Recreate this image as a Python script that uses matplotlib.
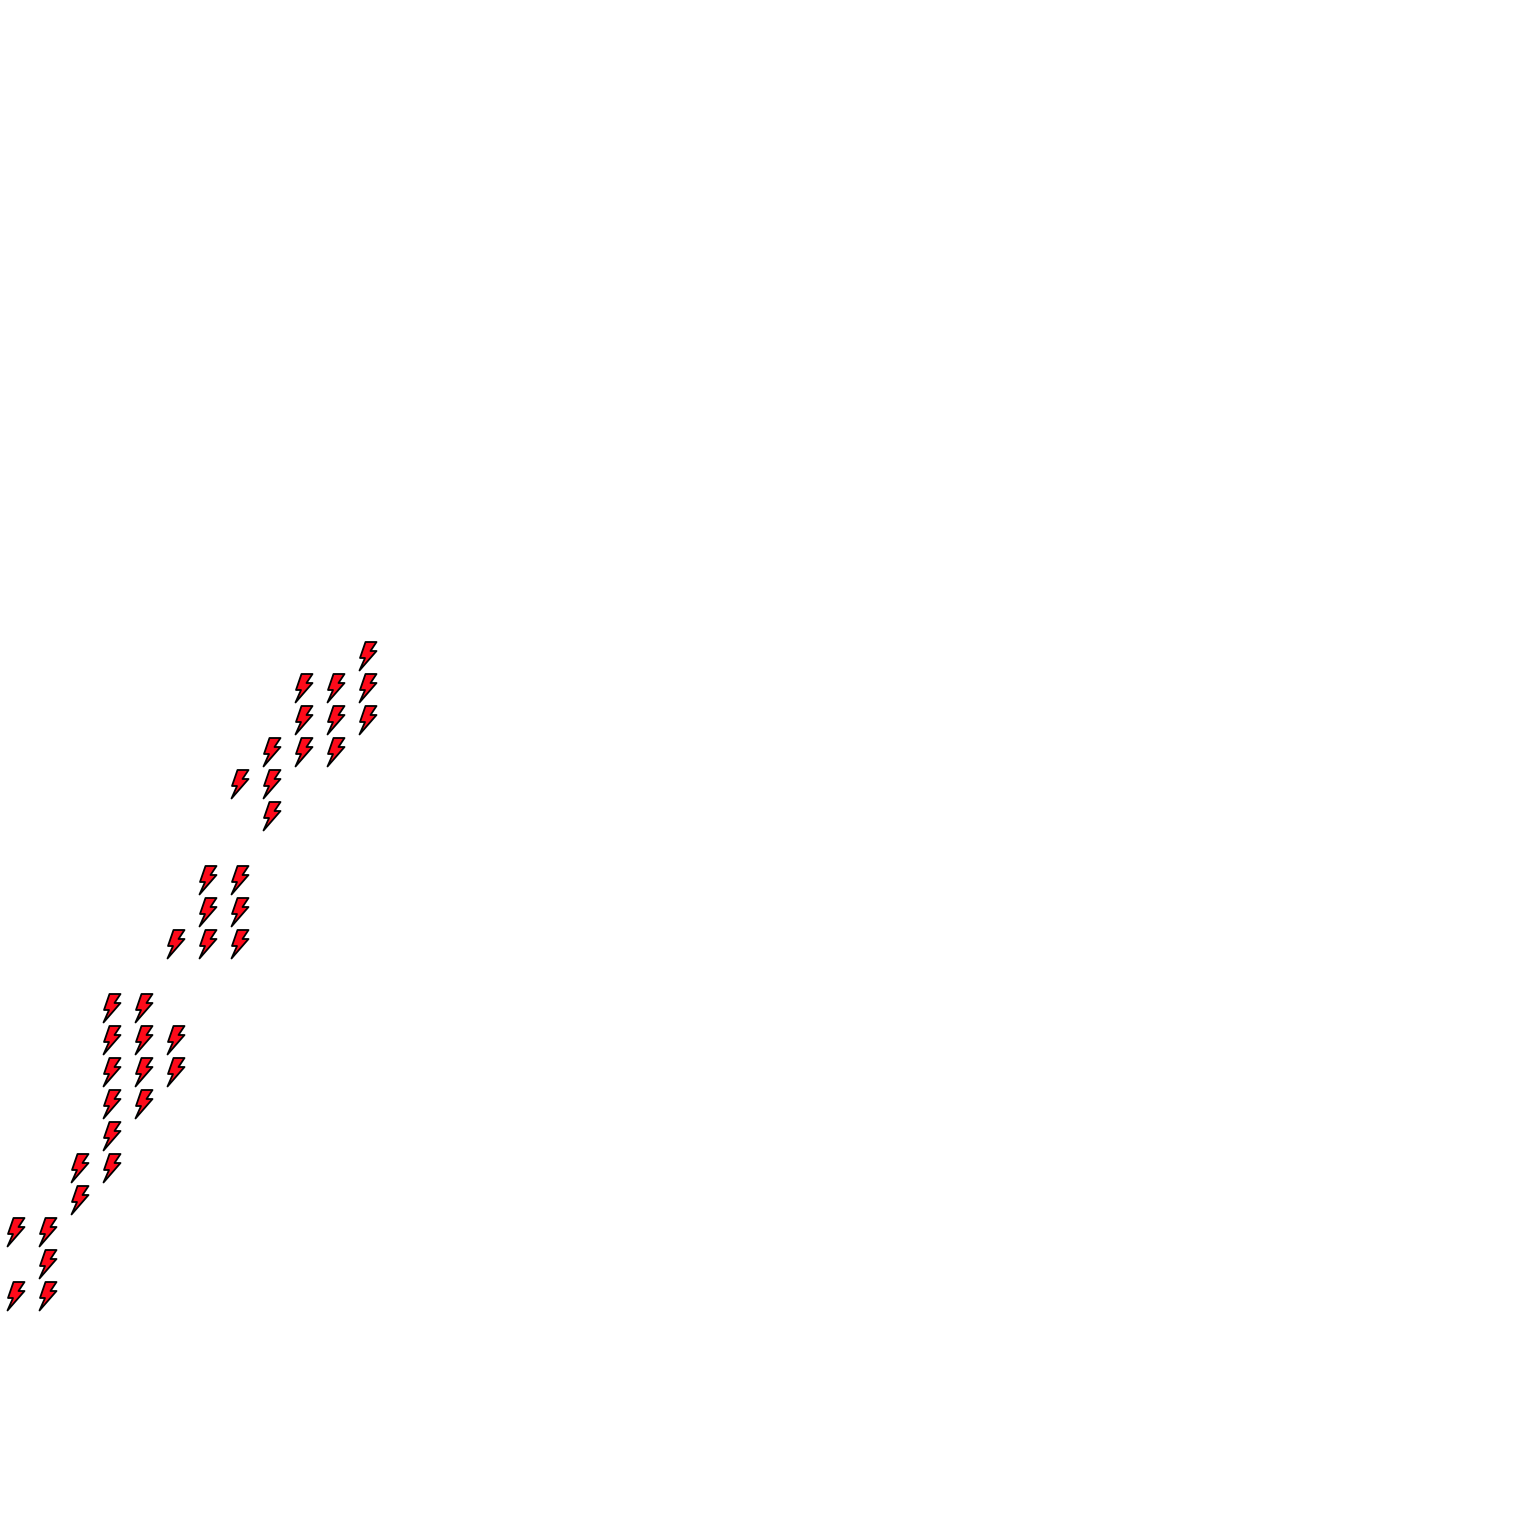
import matplotlib

matplotlib.use("Agg")

import matplotlib.pyplot as plt
from matplotlib.path import Path

# grid column of each group of bolts, rows counted up from the lowest bolt
col_0 = [0, 2]
col_1 = [0, 1, 2]
col_2 = [3, 4]
col_3 = [4, 5, 6, 7, 8, 9]
col_4 = [6, 7, 8, 9]
col_5 = [7, 8, 11]
col_6 = [11, 12, 13]
col_7 = [11, 12, 13, 16]
col_8 = [15, 16, 17]
col_9 = [17, 18, 19]
col_10 = [17, 18, 19]
col_11 = [18, 19, 20]
columns = [col_0, col_1, col_2, col_3, col_4, col_5, col_6, col_7, col_8, col_9, col_10, col_11]

bolt = Path(
    [(-3, 14.5), (8, 14.5), (2, 5.5), (8, 5.5), (-9, -14), (-3.5, -1.5), (-8.5, -1.5), (-3, 14.5)],
    closed=True,
)

fig = plt.figure(figsize=(15.36, 15.36), dpi=100)
ax = fig.add_axes([0, 0, 1, 1])

for i, rows in enumerate(columns):
    ax.scatter([i] * len(rows), rows, marker=bolt, s=436, c="#fe0a1a", edgecolors="black", linewidths=1.3)

# one cell is 32 px, lowest row centred at y=1296 px
ax.set_xlim(-0.5, 47.5)
ax.set_ylim(-7.5, 40.5)
ax.axis("off")

fig.savefig("out.png", dpi=100, facecolor="white")
plt.close(fig)
